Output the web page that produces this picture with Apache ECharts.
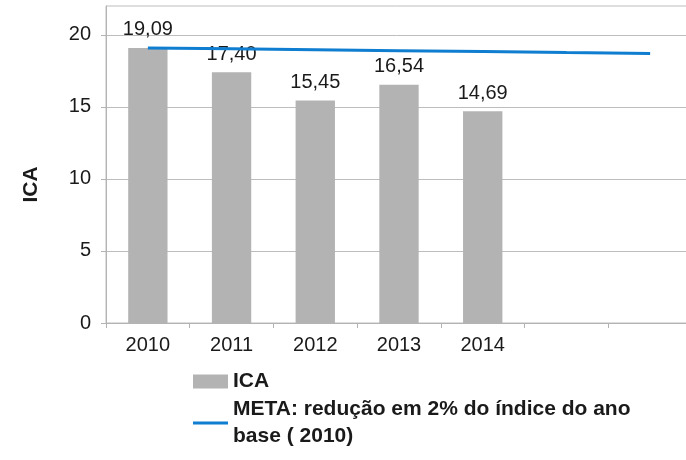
<!DOCTYPE html>
<html>
<head>
<meta charset="utf-8">
<script src="https://cdn.jsdelivr.net/npm/echarts@6/dist/echarts.min.js"></script>
<style>
  html, body { margin: 0; padding: 0; background: #fff; }
  #ica-chart { width: 686px; height: 460px; }
</style>
</head>
<body>
<div id="ica-chart"></div>
<script>
  var anos = ["2010", "2011", "2012", "2013", "2014", "", ""];
  var ica = [19.09, 17.40, 15.45, 16.54, 14.69, null, null];
  var meta = [19.09, 19.03, 18.96, 18.90, 18.84, 18.77, 18.71];
  var metaNome = "META: redução em 2% do índice do ano base ( 2010)";

  var myChart = echarts.init(document.getElementById("ica-chart"));
  var option = {
    animation: false,
    textStyle: {
      fontFamily: "Liberation Sans, Arial, sans-serif"
    },
    grid: {
      left: 106,
      top: 6,
      width: 586,
      height: 317,
      outerBoundsMode: "none",
      show: true,
      borderWidth: 1,
      borderColor: "#bdbdbd"
    },
    legend: {
      orient: "vertical",
      left: 193,
      top: 368,
      padding: 0,
      itemGap: 4,
      itemWidth: 35,
      itemHeight: 14,
      selectedMode: false,
      textStyle: {
        color: "#1a1a1a",
        fontSize: 21,
        fontWeight: "bold",
        lineHeight: 27
      },
      data: [
        { name: "ICA", icon: "rect" },
        {
          name: metaNome,
          icon: "path://M0,0H35V3H0Z",
          textStyle: { padding: [0, 0, -27, 0] }
        }
      ],
      formatter: function(name) {
        if (name === metaNome) {
          return "META: redução em 2% do índice do ano\nbase ( 2010)";
        }
        return name;
      }
    },
    xAxis: {
      type: "category",
      data: anos,
      axisLine: { lineStyle: { color: "#b3b3b3", width: 1 } },
      axisTick: { show: true, length: 5, lineStyle: { color: "#b3b3b3" } },
      axisLabel: { color: "#1a1a1a", fontSize: 20, margin: 12 }
    },
    yAxis: {
      type: "value",
      min: 0,
      max: 22,
      interval: 5,
      name: "ICA",
      nameLocation: "middle",
      nameGap: 64,
      nameTextStyle: {
        color: "#1a1a1a",
        fontSize: 21,
        fontWeight: "bold",
        padding: [0, 40, 0, 0]
      },
      axisLine: { show: true, lineStyle: { color: "#b3b3b3", width: 1 } },
      axisTick: {
        show: true,
        length: 5,
        customValues: [0, 5, 10, 15, 20],
        lineStyle: { color: "#b3b3b3" }
      },
      axisLabel: {
        color: "#1a1a1a",
        fontSize: 20,
        margin: 15,
        customValues: [0, 5, 10, 15, 20]
      },
      splitLine: { lineStyle: { color: "#bdbdbd", width: 1 } }
    },
    series: [
      {
        name: "ICA",
        type: "bar",
        barWidth: "47%",
        data: ica,
        itemStyle: { color: "#b3b3b3" },
        label: {
          show: true,
          position: "top",
          distance: 8,
          color: "#1a1a1a",
          fontSize: 20,
          formatter: function(p) {
            return p.value.toFixed(2).replace(".", ",");
          }
        }
      },
      {
        name: metaNome,
        type: "line",
        data: meta,
        symbol: "none",
        z: 3,
        lineStyle: { color: "#0f7dd0", width: 3 },
        itemStyle: { color: "#0f7dd0" }
      }
    ]
  };
  myChart.setOption(option);
  window.onresize = function() {
    myChart.resize();
  };
</script>
</body>
</html>
